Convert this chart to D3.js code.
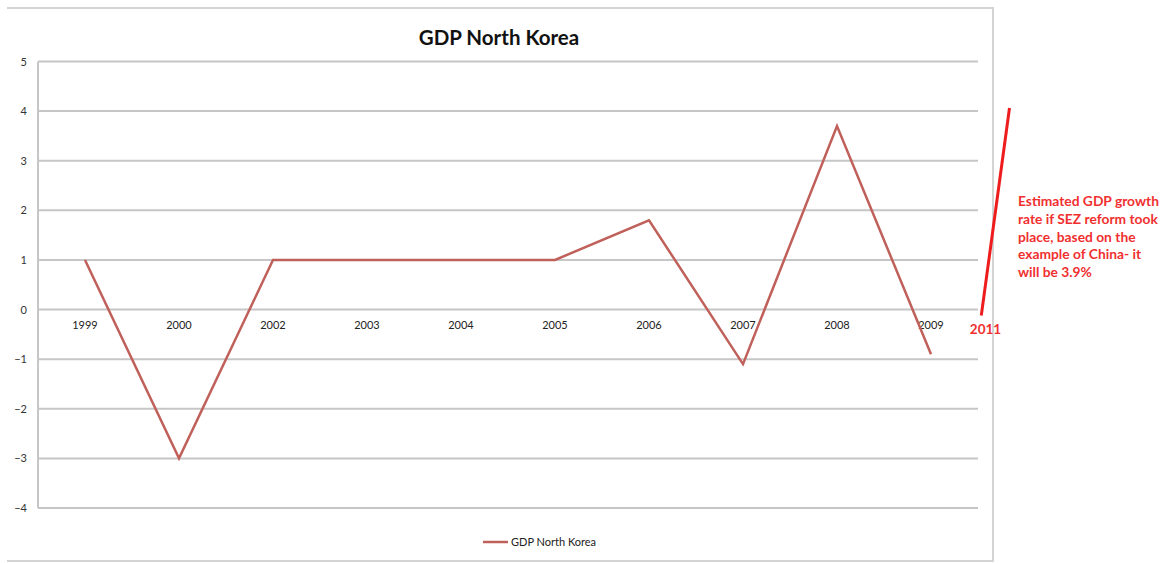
<!DOCTYPE html>
<html><head><meta charset="utf-8">
<script src="https://cdn.jsdelivr.net/npm/d3@7"></script>
<style>body{margin:0;background:#fff}svg{display:block}</style>
</head><body>
<svg id="c" width="1168" height="563"></svg>
<script>
const categories = ["1999","2000","2002","2003","2004","2005","2006","2007","2008","2009"];
const gdpValues = [1, -3, 1, 1, 1, 1, 1.8, -1.1, 3.7, -0.9];
const yTicks = [5, 4, 3, 2, 1, 0, -1, -2, -3, -4];
const seriesName = "GDP North Korea";
const annoLabel = "2011";
const annoValues = [0, 3.9];
const annoText = ["Estimated GDP growth", "rate if SEZ reform took", "place, based on the", "example of China- it", "will be 3.9%"];

const svg = d3.select("#c");
const font = "Lato, 'Open Sans', sans-serif";
const L = 38, R = 978, T = 61.5, B = 508;
const x = d3.scaleBand().domain(categories).range([L, R]);
const y = d3.scaleLinear().domain([-4, 5]).range([B, T]);
const cx = d => x(d) + x.bandwidth() / 2;

// frame
svg.append("path").attr("d", `M7,8 H993 V561 H7`).attr("fill", "none")
  .attr("stroke", "#d4d4d4").attr("stroke-width", 2);

// gridlines
svg.append("g").selectAll("line").data(yTicks).join("line")
  .attr("x1", L).attr("x2", R).attr("y1", d => y(d)).attr("y2", d => y(d))
  .attr("stroke", "#c6c6c6").attr("stroke-width", 2);
svg.append("line").attr("x1", L).attr("x2", L).attr("y1", T).attr("y2", B)
  .attr("stroke", "#c6c6c6").attr("stroke-width", 2);

// y axis labels
const yAxis = d3.axisLeft(y).tickValues(yTicks).tickSize(0).tickPadding(11);
const gy = svg.append("g").attr("transform", `translate(${L},0)`).call(yAxis);
gy.select(".domain").remove();
gy.selectAll("text").attr("font-family", font).attr("font-size", 11).attr("fill", "#333");

// x axis labels at zero line
const xAxis = d3.axisBottom(x).tickSize(0).tickPadding(12);
const gx = svg.append("g").attr("transform", `translate(0,${y(0)})`).call(xAxis);
gx.select(".domain").remove();
gx.selectAll("text").attr("font-family", font).attr("font-size", 11).attr("fill", "#222");

// line
const line = d3.line().x((d, i) => cx(categories[i])).y(d => y(d));
svg.append("path").datum(gdpValues).attr("d", line).attr("fill", "none")
  .attr("stroke", "#c0605a").attr("stroke-width", 2.5).attr("stroke-linejoin", "miter");

// title
svg.append("text").attr("x", 499).attr("y", 45).attr("text-anchor", "middle")
  .attr("font-family", font).attr("font-weight", "bold").attr("font-size", 20.5)
  .attr("fill", "#111").text(seriesName);

// legend
svg.append("line").attr("x1", 483).attr("x2", 508).attr("y1", 542).attr("y2", 542)
  .attr("stroke", "#c0605a").attr("stroke-width", 2.5);
svg.append("text").attr("x", 511).attr("y", 546).attr("font-family", font)
  .attr("font-size", 11).attr("fill", "#222").text(seriesName);

// annotation
const step = x.step();
const ax0 = cx("2009") + step * 0.535, ax1 = cx("2009") + step * 0.835;
svg.append("line").attr("x1", ax0).attr("y1", y(annoValues[0]) + 6)
  .attr("x2", ax1).attr("y2", y(annoValues[1]) - 8)
  .attr("stroke", "#ee1c1c").attr("stroke-width", 3);
svg.append("text").attr("x", cx("2009") + step * 0.58).attr("y", 334).attr("text-anchor", "middle")
  .attr("font-family", font).attr("font-weight", "bold").attr("font-size", 13.5)
  .attr("fill", "#f03030").text(annoLabel);
svg.append("g").selectAll("text").data(annoText).join("text")
  .attr("x", 1018).attr("y", (d, i) => 206 + i * 17.8)
  .attr("font-family", font).attr("font-weight", "bold").attr("font-size", 13.8)
  .attr("fill", "#f03030").text(d => d);
</script>
</body></html>
